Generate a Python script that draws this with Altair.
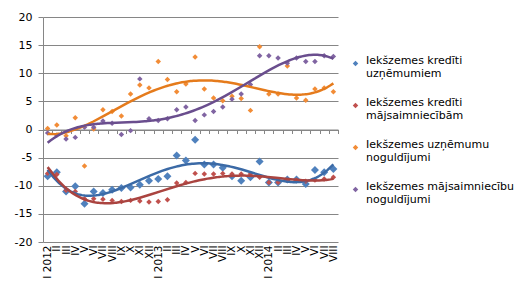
import json
import altair as alt
import pandas as pd

# Month labels, January 2012 .. August 2014
months = ["I 2012", "II", "III", "IV", "V", "VI", "VII", "VIII", "IX", "X", "XI", "XII",
          "I 2013", "II", "III", "IV", "V", "VI", "VII", "VIII", "IX", "X", "XI", "XII",
          "I 2014", "II", "III", "IV", "V", "VI", "VII", "VIII"]

# Series names ('|' marks the line break in the legend)
series_names = [
    "Iekšzemes kredīti|uzņēmumiem",
    "Iekšzemes kredīti|mājsaimniecībām",
    "Iekšzemes uzņēmumu|noguldījumi",
    "Iekšzemes mājsaimniecību|noguldījumi",
]

# Annual growth rates, %
credit_firms = [-8.3, -7.6, -11.0, -10.1, -13.2, -11.0, -11.3, -10.7, -10.4, -10.3, -9.8, -9.1,
                -8.8, -8.3, -4.6, -5.5, -1.8, -6.2, -6.2, -6.8, -8.3, -9.1, -8.5, -5.7,
                -9.4, -9.4, -8.9, -8.9, -9.7, -7.2, -7.6, -7.0]
credit_households = [-7.8, -8.0, -10.8, -11.0, -12.3, -12.3, -12.4, -12.6, -12.8, -12.6, -12.7, -12.9,
                     -12.8, -12.5, -9.5, -9.4, -7.8, -7.9, -7.9, -7.8, -7.9, -7.9, -7.9, -8.5,
                     -9.4, -9.4, -9.0, -9.0, -9.2, -9.0, -8.8, -8.5]
deposits_firms = [0.2, 0.8, -1.1, 2.1, -6.5, 0.1, 3.5, 3.2, 2.4, 6.3, 7.9, 7.4,
                  12.1, 8.9, 6.7, 8.1, 12.9, 7.2, 5.6, 5.1, 5.9, 5.5, 3.4, 14.7,
                  6.3, 6.3, 11.3, 5.6, 5.2, 7.2, 7.4, 6.7]
deposits_households = [-0.6, -1.0, -1.7, -1.4, 0.4, 0.4, 1.5, 1.1, -0.9, -0.2, 9.0, 1.9,
                       1.6, 1.9, 3.5, 4.0, 1.6, 2.6, 3.2, 4.0, 5.4, 6.3, 8.0, 13.1,
                       13.1, 12.7, 11.8, 12.7, 12.1, 12.1, 13.1, 13.0]

marker_colors = ["#4F81BD", "#C0504D", "#F28C36", "#8064A2"]
line_colors = ["#3B6AA6", "#AA4440", "#E57B1C", "#6A4E8E"]

rows = []
for name, values in zip(series_names, [credit_firms, credit_households, deposits_firms, deposits_households]):
    for i, v in enumerate(values):
        rows.append({"i": i, "series": name, "v": v})
df = pd.DataFrame(rows)

W, H = 295, 225
FONT = "DejaVu Sans"
GRID = "#868686"

x_scale = alt.Scale(domain=[-0.5, 31.5], nice=False, zero=False)
y_scale = alt.Scale(domain=[-20, 20], nice=False, zero=False)

y_enc = alt.Y("v:Q", scale=y_scale, axis=alt.Axis(
    values=list(range(-20, 21, 5)), grid=True, gridColor=GRID, gridWidth=1,
    domainColor=GRID, tickColor=GRID, tickSize=5, labelPadding=6,
    labelFont=FONT, labelFontSize=11, labelColor="black",
    labelExpr="datum.value + ''", title=None))

label_axis = alt.Axis(
    values=list(range(32)), labelExpr=json.dumps(months) + "[datum.value]",
    labelAngle=270, labelFont=FONT, labelFontSize=10.5, labelColor="black",
    labelPadding=3, labelOverlap=False, labelFlush=False, ticks=False,
    domain=False, grid=False, title=None, orient="bottom")

tick_axis = alt.Axis(
    values=[k - 0.5 for k in range(33)], labels=False, ticks=True, tickSize=4,
    tickColor=GRID, domain=True, domainColor=GRID, grid=False, offset=-H / 2,
    title=None, orient="bottom")

fill_enc = alt.Fill("series:N", scale=alt.Scale(domain=series_names, range=marker_colors),
                    legend=alt.Legend(
                        orient="none", legendX=307, legendY=41, title=None,
                        labelExpr="split(datum.label, '|')", labelFont=FONT,
                        labelFontSize=11, labelColor="black", labelLimit=300,
                        labelBaseline="alphabetic", labelOffset=5,
                        symbolType="diamond", symbolSize=30, symbolStrokeWidth=0,
                        rowPadding=17, padding=0, direction="vertical"))

base = alt.Chart(df)

blue_points = base.transform_filter(alt.datum.series == series_names[0]).mark_point(
    shape="diamond", filled=True, size=64, opacity=1).encode(
    x=alt.X("i:Q", scale=x_scale, axis=label_axis), y=y_enc, fill=fill_enc)

other_points = base.transform_filter(alt.datum.series != series_names[0]).mark_point(
    shape="diamond", filled=True, size=30, opacity=1).encode(
    x=alt.X("i:Q", scale=x_scale, axis=None), y=y_enc, fill=fill_enc)

# Polynomial trend for each series
trends = base.transform_regression(
    "i", "v", groupby=["series"], method="poly", order=4).mark_line(strokeWidth=2.5).encode(
    x=alt.X("i:Q", scale=x_scale, axis=tick_axis), y=y_enc,
    stroke=alt.Stroke("series:N", scale=alt.Scale(domain=series_names, range=line_colors), legend=None),
    detail="series:N")

chart = alt.layer(blue_points, other_points, trends).resolve_axis(x="independent").properties(
    width=W, height=H,
    autosize=alt.AutoSizeParams(type="none"),
    padding={"left": 43, "top": 17, "right": 187, "bottom": 53},
    background="white",
).configure_view(stroke=None)

chart.save("out.html", embed_options={"renderer": "svg", "actions": False})
